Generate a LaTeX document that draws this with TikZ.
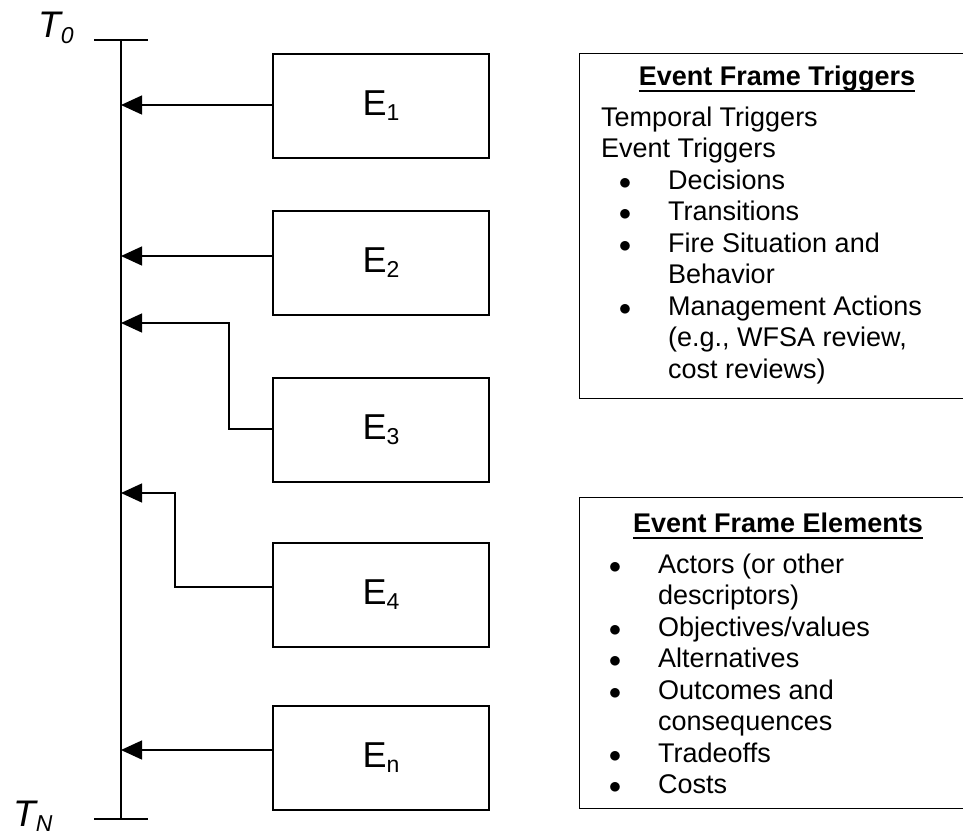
\documentclass[tikz,border=0pt]{standalone}
\usepackage{fontspec}
\setmainfont{Liberation Sans}
\usetikzlibrary{arrows.meta}
% bullet centred in a column of width #1, item text starting at #2
\newcommand{\bul}[2]{\makebox[#2][l]{\makebox[#1][c]{$\bullet$}}}
% lowered subscript
\newcommand{\lowsub}[2]{\raisebox{-#1}{\fontsize{23}{23}\selectfont #2}}
\tikzset{
  evbox/.style = {draw, line width=1.3pt, minimum width=216pt,
    minimum height=104pt, inner sep=0pt, font=\fontsize{36}{36}\selectfont},% event box
  notebox/.style = {draw, line width=1.3pt, anchor=north west,
    minimum width=396pt, inner sep=0pt},% side box
  boxtitle/.style = {anchor=base, inner sep=0pt,
    font=\fontsize{27}{31.5}\selectfont\bfseries},
  boxlist/.style = {anchor=base west, inner sep=0pt,
    font=\fontsize{27}{31.5}\selectfont},
  evarrow/.style = {-{Triangle[length=21pt,width=19pt]}, line width=1.3pt},
  tline/.style = {line width=1.3pt},
  tlabel/.style = {anchor=base west, inner sep=0pt,
    font=\fontsize{37}{37}\selectfont\itshape},
}

\begin{document}
\begin{tikzpicture}[x=1pt,y=-1pt]
  \useasboundingbox (0,0) rectangle (963,831);
  \clip (0,0) rectangle (963,831);

  % time line
  \coordinate (top) at (121,40);
  \coordinate (bot) at (121,819);
  \draw[tline] (top) -- (bot);
  \draw[tline] ([xshift=-27pt]top) -- ([xshift=27pt]top);
  \draw[tline] ([xshift=-27pt]bot) -- ([xshift=27pt]bot);
  \node[tlabel] (t0) at (38,37) {T\lowsub{6pt}{\itshape 0}};
  \node[tlabel] (tn) at (13,826) {T\lowsub{5pt}{\itshape N}};

  % events
  \node[evbox] (e1) at (381,106) {E\lowsub{5pt}{1}};
  \node[evbox] (e2) at (381,263) {E\lowsub{5pt}{2}};
  \node[evbox] (e3) at (381,430) {E\lowsub{5pt}{3}};
  \node[evbox] (e4) at (381,595) {E\lowsub{5pt}{4}};
  \node[evbox] (en) at (381,758) {E\lowsub{5pt}{n}};

  \coordinate (h1) at (121,105);
  \coordinate (h2) at (121,256);
  \coordinate (h3) at (121,323);
  \coordinate (h4) at (121,493);
  \coordinate (hn) at (121,750);
  \coordinate (k3) at (229,429);
  \coordinate (k4) at (175,587);

  \draw[evarrow] (e1.west |- h1) -- (h1);
  \draw[evarrow] (e2.west |- h2) -- (h2);
  \draw[evarrow] (e3.west |- k3) -- (k3) |- (h3);
  \draw[evarrow] (e4.west |- k4) -- (k4) |- (h4);
  \draw[evarrow] (en.west |- hn) -- (hn);

  % triggers
  \node[notebox, minimum height=345pt] (trigbox) at (579,53) {};
  \node[boxtitle] (trigtitle) at (777,85) {Event Frame Triggers};
  \draw[line width=1.8pt] ([yshift=-6pt]trigtitle.base west) -- ([yshift=-6pt]trigtitle.base east);
  \node[boxlist] (triglist) at (601,126) {\begin{tabular}[t]{@{}l@{}}
    Temporal Triggers\\
    Event Triggers\\
    \bul{48pt}{67pt}Decisions\\
    \bul{48pt}{67pt}Transitions\\
    \bul{48pt}{67pt}Fire Situation and\\
    \hspace*{67pt}Behavior\\
    \bul{48pt}{67pt}Management Actions\\
    \hspace*{67pt}(e.g., WFSA review,\\
    \hspace*{67pt}cost reviews)
  \end{tabular}};

  % elements
  \node[notebox, minimum height=311pt] (elbox) at (579,497) {};
  \node[boxtitle] (eltitle) at (778,532) {Event Frame Elements};
  \draw[line width=1.8pt] ([yshift=-6pt]eltitle.base west) -- ([yshift=-6pt]eltitle.base east);
  \node[boxlist] (ellist) at (601,573) {\begin{tabular}[t]{@{}l@{}}
    \bul{28pt}{57pt}Actors (or other\\
    \hspace*{57pt}descriptors)\\
    \bul{28pt}{57pt}Objectives/values\\
    \bul{28pt}{57pt}Alternatives\\
    \bul{28pt}{57pt}Outcomes and\\
    \hspace*{57pt}consequences\\
    \bul{28pt}{57pt}Tradeoffs\\
    \bul{28pt}{57pt}Costs
  \end{tabular}};
\end{tikzpicture}
\end{document}
